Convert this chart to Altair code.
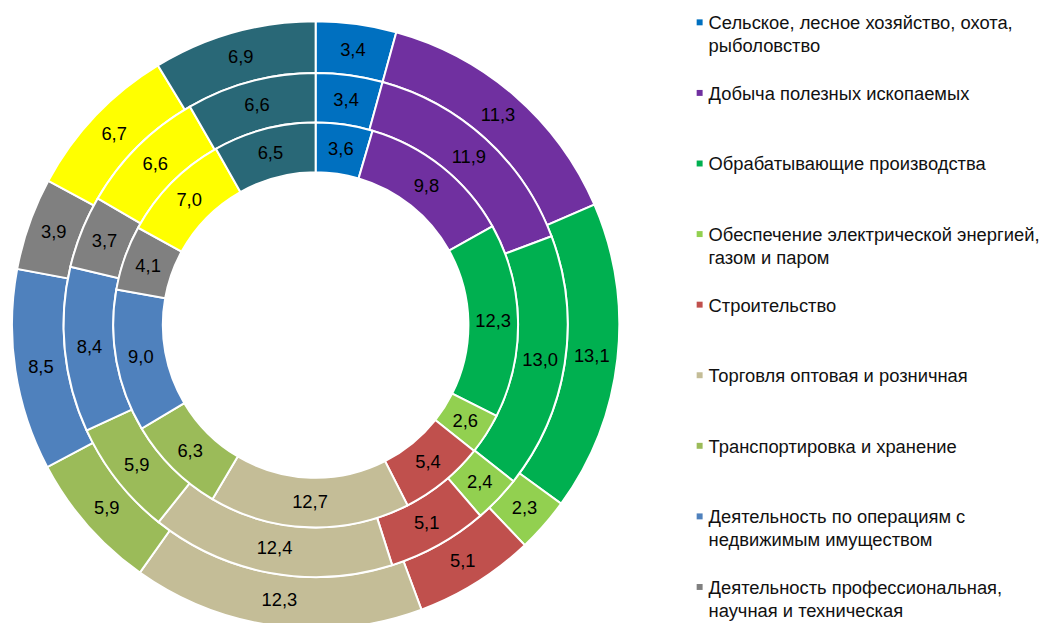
import altair as alt
import pandas as pd

categories = [
    "Сельское, лесное хозяйство, охота, рыболовство",
    "Добыча полезных ископаемых",
    "Обрабатывающие производства",
    "Обеспечение электрической энергией, газом и паром",
    "Строительство",
    "Торговля оптовая и розничная",
    "Транспортировка и хранение",
    "Деятельность по операциям с недвижимым имуществом",
    "Деятельность профессиональная, научная и техническая",
    "Государственное управление",
    "Прочие виды деятельности",
]
legend_labels = [
    "Сельское, лесное хозяйство, охота,\nрыболовство",
    "Добыча полезных ископаемых",
    "Обрабатывающие производства",
    "Обеспечение электрической энергией,\nгазом и паром",
    "Строительство",
    "Торговля оптовая и розничная",
    "Транспортировка и хранение",
    "Деятельность по операциям с\nнедвижимым имуществом",
    "Деятельность профессиональная,\nнаучная и техническая",
]
colors = ["#0070C0", "#7030A0", "#00B050", "#92D050", "#C0504D", "#C4BD97",
          "#9BBB59", "#4F81BD", "#808080", "#FFFF00", "#296877"]

ring_outer = [3.4, 11.3, 13.1, 2.3, 5.1, 12.3, 5.9, 8.5, 3.9, 6.7, 6.9]
ring_middle = [3.4, 11.9, 13.0, 2.4, 5.1, 12.4, 5.9, 8.4, 3.7, 6.6, 6.6]
ring_inner = [3.6, 9.8, 12.3, 2.6, 5.4, 12.7, 6.3, 9.0, 4.1, 7.0, 6.5]

rows = []
for ring, vals in (("outer", ring_outer), ("middle", ring_middle), ("inner", ring_inner)):
    for i, (c, v) in enumerate(zip(categories, vals)):
        rows.append(dict(ring=ring, cat=c, idx=i, value=v,
                         label=f"{v:.1f}".replace(".", ",")))
df = pd.DataFrame(rows)

color_scale = alt.Scale(domain=categories, range=colors)
radii = {"outer": (254, 306), "middle": (204, 254), "inner": (154, 204)}

base = alt.Chart(df)
layers = []
for ring, (r_in, r_out) in radii.items():
    b = base.transform_filter(alt.datum.ring == ring)
    arc = b.mark_arc(radius=r_out, radius2=r_in, stroke="white", strokeWidth=2).encode(
        theta=alt.Theta("value:Q", stack="normalize"),
        color=alt.Color("cat:N", scale=color_scale, legend=None),
        order=alt.Order("idx:Q"),
    )
    txt = b.mark_text(radius=(r_in + r_out) / 2, fontSize=18.5,
                      font="Liberation Sans", color="black").encode(
        theta=alt.Theta("value:Q", stack="normalize"),
        detail="cat:N",
        text="label:N",
        order=alt.Order("idx:Q"),
    )
    layers += [arc, txt]

donut = alt.layer(*layers).properties(width=608, height=634)

leg_df = pd.DataFrame({"idx": list(range(len(legend_labels))),
                       "label": legend_labels,
                       "cat": categories[:len(legend_labels)]})
yenc = alt.Y("idx:Q", scale=alt.Scale(domain=[0, 8], range=[12, 581]), axis=None)
leg_base = alt.Chart(leg_df)
squares = leg_base.mark_square(size=36, opacity=1, filled=True).encode(
    x=alt.value(8), y=yenc,
    color=alt.Color("cat:N", scale=color_scale, legend=None),
)
leg_text = leg_base.mark_text(align="left", baseline="alphabetic", dy=7,
                              lineBreak="\n", lineHeight=23, fontSize=18.5,
                              font="Liberation Sans", color="#111111").encode(
    x=alt.value(17), y=yenc, text="label:N",
)
legend = alt.layer(squares, leg_text).properties(width=340, height=634)

chart = alt.hconcat(donut, legend, spacing=69).properties(padding=0).configure_view(stroke=None)
chart.save("out.html", embed_options={"renderer": "svg", "actions": False})
